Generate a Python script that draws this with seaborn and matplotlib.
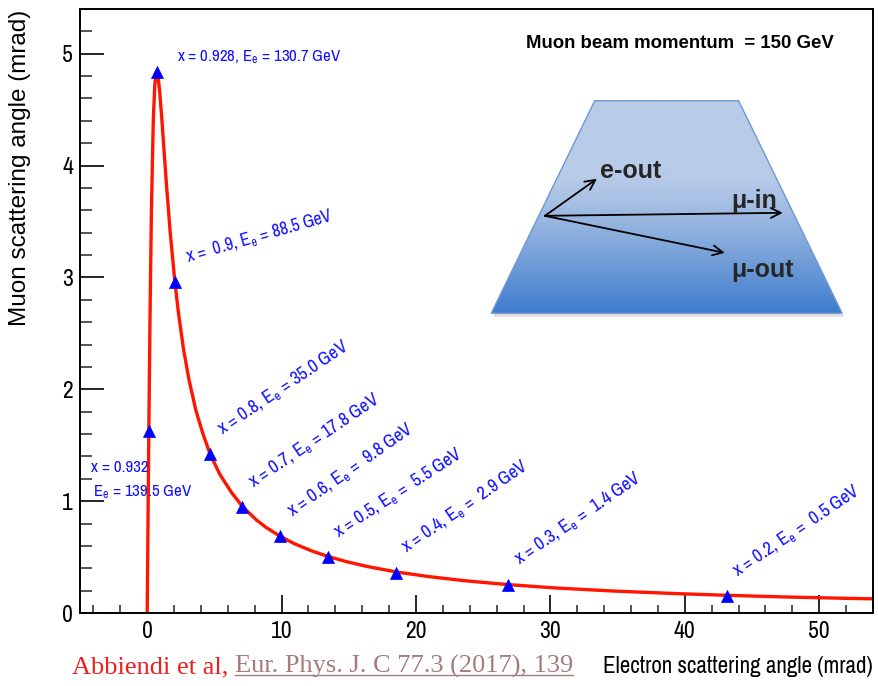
import matplotlib
matplotlib.use("Agg")
import matplotlib.pyplot as plt
import seaborn as sns
import numpy as np
import pandas as pd
from matplotlib import font_manager
from matplotlib.ticker import MultipleLocator
from matplotlib.patches import Polygon
from matplotlib.lines import Line2D

# ---------------- data ----------------
curve_theta_e = [0.0, 0.037, 0.082, 0.131, 0.209, 0.311, 0.454, 0.564, 0.658, 0.714,
                 0.822, 0.931, 1.099, 1.256, 1.408, 1.706, 2.059, 2.338, 2.700, 3.118,
                 3.624, 4.126, 4.68, 5.403, 6.257, 7.079, 8.105, 8.824, 9.832, 10.975,
                 12.244, 13.41, 14.83, 16.40, 18.53, 20.91, 23.67, 26.84, 30.36, 34.57,
                 39.26, 43.17, 47.58, 52.49, 54.76]
curve_theta_mu = [0.0, 0.51, 1.11, 1.74, 2.64, 3.58, 4.41, 4.72, 4.83, 4.84,
                  4.78, 4.66, 4.40, 4.13, 3.87, 3.41, 2.96, 2.67, 2.36, 2.08,
                  1.81, 1.61, 1.42, 1.24, 1.08, 0.953, 0.834, 0.767, 0.690, 0.618,
                  0.555, 0.507, 0.459, 0.415, 0.367, 0.326, 0.288, 0.254, 0.224, 0.197,
                  0.174, 0.158, 0.143, 0.130, 0.125]

marker_theta_e = [0.14, 0.71, 2.07, 4.68, 7.09, 9.85, 13.43, 18.52, 26.83, 43.15]
marker_theta_mu = [1.63, 4.84, 2.96, 1.42, 0.95, 0.69, 0.50, 0.36, 0.25, 0.155]

label_texts = [
    "x = 0.928, E$_{e}$ = 130.7 GeV",
    "x =  0.9, E$_{e}$ = 88.5 GeV",
    "x = 0.8, E$_{e}$ = 35.0 GeV",
    "x = 0.7, E$_{e}$ = 17.8 GeV",
    "x = 0.6, E$_{e}$ =  9.8 GeV",
    "x = 0.5, E$_{e}$ =  5.5 GeV",
    "x = 0.4, E$_{e}$ =  2.9 GeV",
    "x = 0.3, E$_{e}$ =  1.4 GeV",
    "x = 0.2, E$_{e}$ =  0.5 GeV",
]
label_first_line = "x = 0.932"
label_second_line = "E$_{e}$ = 139.5 GeV"

x_label = "Electron scattering angle (mrad)"
y_label = "Muon scattering angle (mrad)"
title_text = "Muon beam momentum  = 150 GeV"
cite_author = "Abbiendi et al, "
cite_ref = "Eur. Phys. J. C 77.3 (2017), 139"

# ---------------- layout / style ----------------
label_pos = [(2.23, 4.93), (2.97, 3.14), (5.58, 1.59), (7.9, 1.12), (10.8, 0.86),
             (14.2, 0.67), (19.3, 0.54), (27.7, 0.43), (43.9, 0.32)]
label_rot = [0, 16, 34, 34, 35, 33, 34.5, 34.5, 34]
label_size = [12.2, 12.8, 13.3, 13.3, 13.3, 13.3, 13.3, 13.3, 13.3]

sns.set_theme(style="ticks")
names = {f.name for f in font_manager.fontManager.ttflist}
if "Archivo Narrow" in names:
    NARROW, k = "Archivo Narrow", 1.0
elif "Liberation Sans Narrow" in names:
    NARROW, k = "Liberation Sans Narrow", 1.0
else:
    NARROW, k = "Liberation Sans", 0.85
plt.rcParams["font.family"] = [NARROW, "Liberation Sans", "DejaVu Sans"]
plt.rcParams["mathtext.default"] = "regular"
plain = ["Liberation Sans", "DejaVu Sans"]

W, H = 879, 686
fig = plt.figure(figsize=(W / 100, H / 100), dpi=100)
fig.patch.set_facecolor("white")
ax = fig.add_axes([80 / W, 1 - 613 / H, (873 - 80) / W, (613 - 9) / H])
ax.set_facecolor("white")

df_curve = pd.DataFrame({"theta_e": curve_theta_e, "theta_mu": curve_theta_mu})
df_pts = pd.DataFrame({"theta_e": marker_theta_e, "theta_mu": marker_theta_mu})

sns.lineplot(data=df_curve, x="theta_e", y="theta_mu", sort=False, estimator=None,
             color="#ff1500", lw=2.4, ax=ax, zorder=2)
sns.scatterplot(data=df_pts, x="theta_e", y="theta_mu", marker="^", s=75,
                color="#0000ff", edgecolor="#0000ff", linewidth=0.5, ax=ax, zorder=3)

blue = "#1010ff"
for s, (lx, ly), r, fs in zip(label_texts, label_pos, label_rot, label_size):
    ax.text(lx, ly, s, rotation=r, rotation_mode="anchor", ha="left", va="baseline",
            color=blue, fontsize=fs * k)
ax.text(-4.16, 1.26, label_first_line, ha="left", va="baseline", color=blue, fontsize=12.2 * k)
ax.text(-4.0, 1.04, label_second_line, ha="left", va="baseline", color=blue, fontsize=12.2 * k)

ax.text(39.6, 5.09, title_text, ha="center", va="center", fontsize=13.4,
        fontweight="bold", color="black", family=plain)

# inset trapezoid with vertical gradient
trap = [(33.3, 4.58), (44.0, 4.58), (51.7, 2.68), (25.6, 2.68)]
shadow = Polygon([(x + 0.15, y - 0.03) for x, y in trap], closed=True,
                 facecolor="#999999", edgecolor="none", alpha=0.35, zorder=0.8)
ax.add_patch(shadow)
top_c = np.array([0xb8, 0xcb, 0xe8]) / 255
bot_c = np.array([0x3d, 0x7c, 0xcc]) / 255
t = np.linspace(0, 1, 300)
w = np.clip((t - 0.35) / 0.65, 0, 1) ** 1.2
grad = (top_c[None, :] * (1 - w[:, None]) + bot_c[None, :] * w[:, None])[:, None, :]
im = ax.imshow(grad, extent=[25.6, 51.7, 2.68, 4.58], aspect="auto", origin="upper",
               zorder=1, interpolation="bilinear")
poly = Polygon(trap, closed=True, facecolor="none", edgecolor="#6d98d4", lw=1.0, zorder=1.1)
ax.add_patch(poly)
im.set_clip_path(poly)

origin = (29.59, 3.551)
for tip in [(33.46, 3.882), (47.29, 3.578), (42.97, 3.220)]:
    ax.annotate("", xy=tip, xytext=origin,
                arrowprops=dict(arrowstyle="->,head_length=0.6,head_width=0.3",
                                color="black", lw=1.3, shrinkA=0, shrinkB=0), zorder=1.5)
ax.text(33.68, 3.89, "e-out", family=plain, fontweight="bold", fontsize=18,
        ha="left", va="baseline", zorder=1.6)
ax.text(43.49, 3.62, "μ-in", family=plain, fontweight="bold", fontsize=18,
        ha="left", va="baseline", zorder=1.6)
ax.text(43.49, 3.00, "μ-out", family=plain, fontweight="bold", fontsize=18,
        ha="left", va="baseline", zorder=1.6)

# axes
ax.set_xlim(-5, 54)
ax.set_ylim(0, 5.4)
ax.xaxis.set_major_locator(MultipleLocator(10))
ax.xaxis.set_minor_locator(MultipleLocator(2))
ax.yaxis.set_major_locator(MultipleLocator(1))
ax.yaxis.set_minor_locator(MultipleLocator(0.2))
ax.tick_params(axis="y", which="major", direction="in", length=17, width=1.2,
               labelsize=17 * k, pad=5, colors="black")
ax.tick_params(axis="y", which="minor", direction="in", length=8.6, width=1.1)
ax.tick_params(axis="x", which="major", direction="in", length=13, width=1.2,
               labelsize=17 * k, pad=6, colors="black")
ax.tick_params(axis="x", which="minor", direction="in", length=6, width=1.1)
for sp in ax.spines.values():
    sp.set_visible(True)
    sp.set_linewidth(1.4)
    sp.set_color("black")

ax.set_xlabel(x_label, fontsize=16.6 * k, loc="right", color="black")
ax.xaxis.set_label_coords(873 / W, 1 - 656 / H, transform=fig.transFigure)
ax.set_ylabel(y_label, fontsize=17.5, loc="top", color="black", family=plain)
ax.yaxis.set_label_coords(31 / W, 1 - 10 / H, transform=fig.transFigure)

# citation line
serif = ["Liberation Serif", "DejaVu Serif"]
t1 = fig.text(72 / W, 1 - 673 / H, cite_author, family=serif, fontsize=19,
              color="#f21d1d", ha="left", va="baseline")
t2 = ax.annotate(cite_ref, xy=(1, 0), xycoords=t1, ha="left", va="bottom",
                 family=serif, fontsize=19, color="#a57b7b", annotation_clip=False)
fig.canvas.draw()
bb = t2.get_window_extent()
inv = fig.transFigure.inverted()
(x0, y0), (x1, _) = inv.transform([(bb.x0, bb.y0 + 3), (bb.x1, bb.y0 + 3)])
fig.add_artist(Line2D([x0, x1], [y0, y0], transform=fig.transFigure,
                      color="#a57b7b", lw=1.0))

fig.savefig("out.png", dpi=100)
